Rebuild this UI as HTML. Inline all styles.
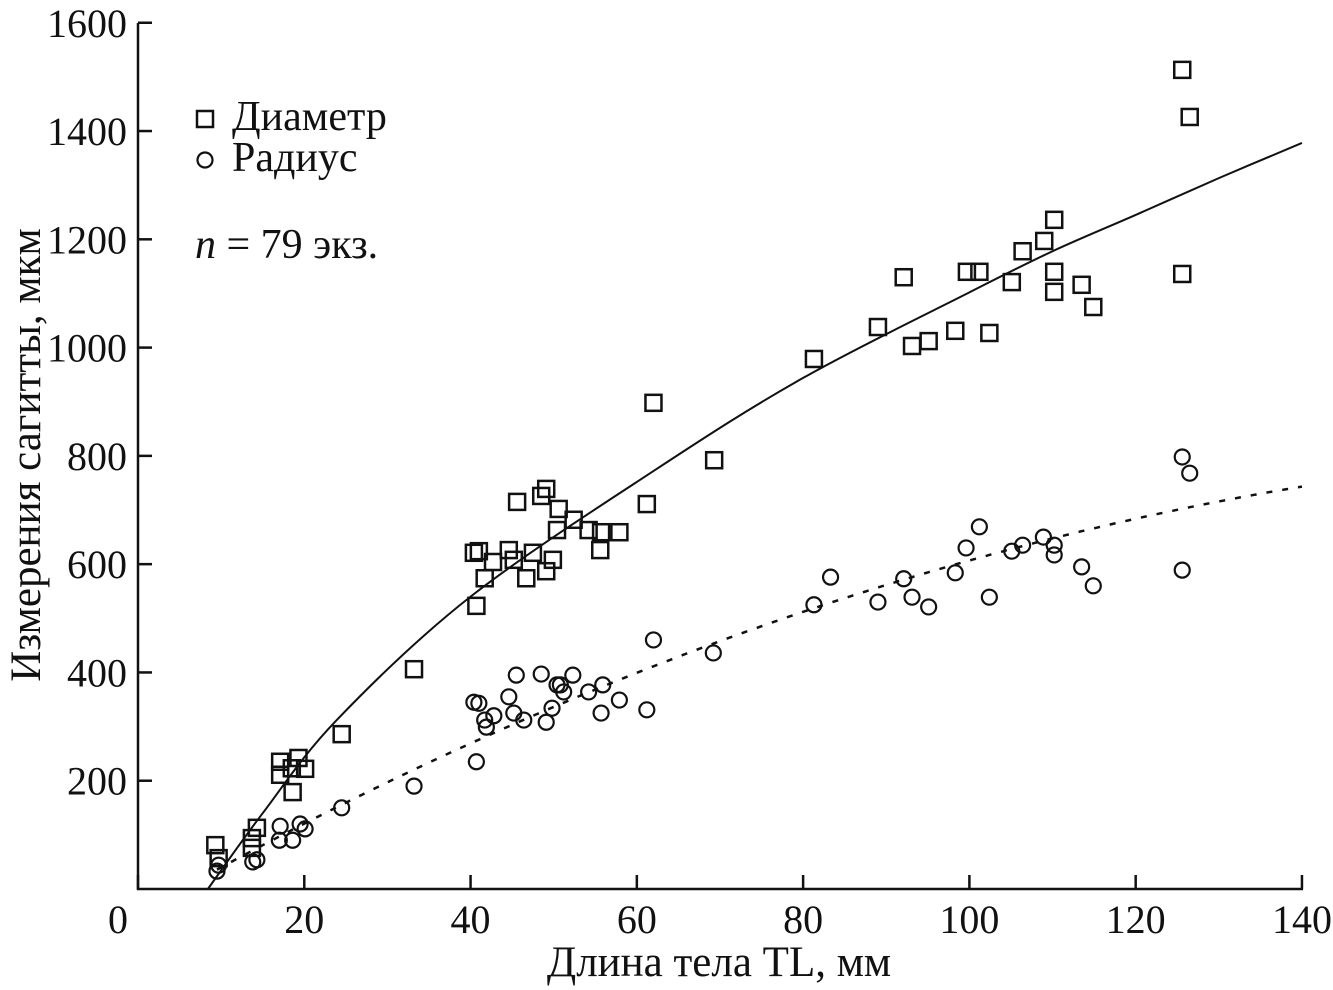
<!DOCTYPE html>
<html><head><meta charset="utf-8"><style>
body{margin:0;background:#fff}
svg{display:block;font-family:"Liberation Serif",serif}
</style></head><body>
<svg id="chart" width="1333" height="990" viewBox="0 0 1333 990">
<g id="axes"></g><g id="marks"></g>
<g>
<rect x="197" y="111" width="16" height="16" fill="none" stroke="#111" stroke-width="2.5"/>
<text x="232" y="130" font-size="42" fill="#111">Диаметр</text>
<circle cx="205" cy="160" r="7.5" fill="none" stroke="#111" stroke-width="2.2"/>
<text x="232" y="171" font-size="42" fill="#111">Радиус</text>
<text x="195" y="258" font-size="42" fill="#111"><tspan font-style="italic">n</tspan> = 79 экз.</text>
</g>
<text x="719" y="976" font-size="43" text-anchor="middle" fill="#111">Длина тела TL, мм</text>
<text transform="translate(40,455) rotate(-90)" font-size="43" text-anchor="middle" fill="#111">Измерения сагитты, мкм</text>
</svg>
<script>
const xTicks=[0,20,40,60,80,100,120,140];
const yTicks=[200,400,600,800,1000,1200,1400,1600];
const diamX=[9.3,9.7,13.7,13.7,14.3,17.1,17.1,18.5,18.6,19.3,20.1,24.5,33.2,40.7,40.4,41,41.7,42.7,44.6,45.6,45.2,46.7,47.5,48.5,49.1,49.1,49.9,50.4,50.6,52.4,54.2,55.6,55.7,57.9,61.2,62,69.3,81.3,89,92.1,93.1,95.1,98.3,99.7,101.2,102.4,105.1,106.4,109,110.2,110.2,110.2,113.5,114.9,125.6,126.5,125.6];
const diamY=[81,57,94,76,113,235,211,223,179,242,222,286,406,523,621,624,574,604,626,715,608,574,621,726,739,587,608,663,702,682,663,626,659,659,711,898,792,979,1038,1130,1003,1012,1031,1140,1140,1027,1121,1178,1197,1236,1140,1103,1116,1075,1513,1426,1136];
const radX=[9.5,9.7,13.8,14.3,17.1,17,18.6,19.5,20.1,24.5,33.2,40.7,40.4,41,41.7,41.9,42.8,44.6,45.5,45.2,46.4,48.5,49.1,49.8,50.4,50.8,51.2,52.3,54.2,55.7,55.9,57.9,61.2,62,69.2,81.3,83.3,89,92.1,93.1,95.1,98.3,99.6,101.2,102.4,105.1,106.4,108.9,110.2,110.2,113.5,114.9,125.6,125.6,126.5];
const radY=[33,44,50,54,116,90,90,120,111,150,190,235,345,343,312,299,320,355,395,325,312,397,308,334,377,377,364,395,364,325,377,349,331,460,436,525,576,530,573,539,521,584,630,669,539,624,635,650,635,617,595,560,589,798,768];
const diamFitX=[8.4,15,23.9,40,62.2,80,100,110,120,130,140];
const diamFitY=[0,140,312,540,774,944,1102,1178,1245,1313,1378];
const radFit=[-45.2,8.74,-0.0222];
const X=v=>138+v*8.314, Y=v=>889-v*0.5414;
const NS="http://www.w3.org/2000/svg";
function mk(t,a,p){const e=document.createElementNS(NS,t);for(const k in a)e.setAttribute(k,a[k]);p.appendChild(e);return e;}
const axes=document.getElementById('axes'), marks=document.getElementById('marks');
let e=mk('line',{x1:138,y1:23,x2:138,y2:890,stroke:'#111','stroke-width':2.5},axes);


e=mk('line',{x1:137,y1:889,x2:1303,y2:889,stroke:'#111','stroke-width':2.5},axes);


xTicks.forEach(t=>{
 e=mk('line',{x1:X(t),y1:889,x2:X(t),y2:875,stroke:'#111','stroke-width':2.5},axes);
 
 
 e=mk('text',{x:X(t)-(t==0?20:0),y:933,'font-size':40,'text-anchor':'middle',fill:'#111'},axes);e.textContent=t;
 
 
});
yTicks.forEach(t=>{
 e=mk('line',{x1:138,y1:Y(t),x2:152,y2:Y(t),stroke:'#111','stroke-width':2.5},axes);
 
 
 e=mk('text',{x:127,y:Y(t)+14,'font-size':40,'text-anchor':'end',fill:'#111'},axes);e.textContent=t;
 
 
});
let d='M'+X(diamFitX[0])+','+Y(diamFitY[0]);
const P=diamFitX.map((x,i)=>[X(x),Y(diamFitY[i])]);
for(let i=0;i<P.length-1;i++){
 const p0=P[Math.max(0,i-1)],p1=P[i],p2=P[i+1],p3=P[Math.min(P.length-1,i+2)];
 d+=' C'+(p1[0]+(p2[0]-p0[0])/6)+','+(p1[1]+(p2[1]-p0[1])/6)+' '+(p2[0]-(p3[0]-p1[0])/6)+','+(p2[1]-(p3[1]-p1[1])/6)+' '+p2[0]+','+p2[1];
}
e=mk('path',{d:d,fill:'none',stroke:'#111','stroke-width':2},marks);


let pts=[];for(let x=9.5;x<=140.001;x+=0.5){const y=radFit[0]+radFit[1]*x+radFit[2]*x*x;if(y>=0)pts.push(X(x).toFixed(1)+','+Y(y).toFixed(1));}
e=mk('polyline',{points:pts.join(' '),fill:'none',stroke:'#111','stroke-width':2.5,'stroke-dasharray':'6 10'},marks);


diamX.forEach((x,i)=>{
 const r=mk('rect',{x:X(x)-8,y:Y(diamY[i])-8,width:16,height:16,fill:'none',stroke:'#111','stroke-width':2.5},marks);
 
 
});
radX.forEach((x,i)=>{
 const c=mk('circle',{cx:X(x),cy:Y(radY[i]),r:7.5,fill:'none',stroke:'#111','stroke-width':2.2},marks);
 
 
});
</script>
</body></html>
